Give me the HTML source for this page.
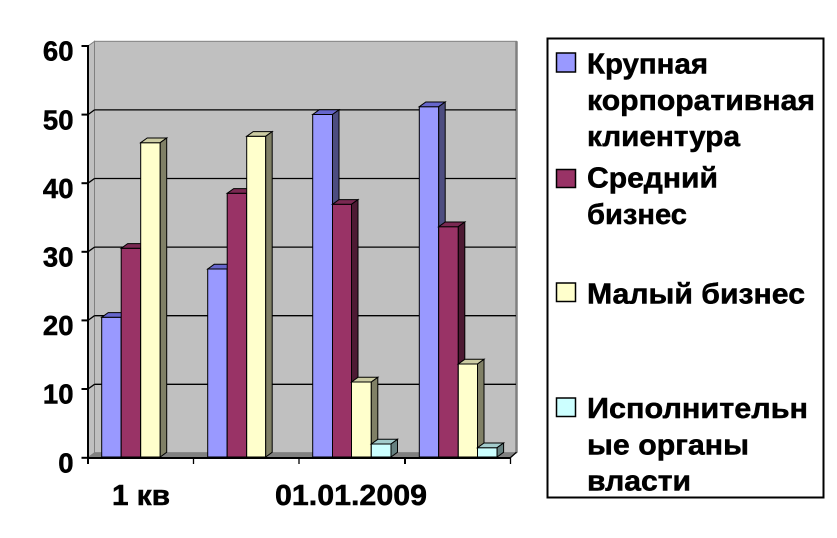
<!DOCTYPE html>
<html>
<head>
<meta charset="utf-8">
<style>
html,body{margin:0;padding:0;background:#fff;}
svg{display:block;}
text{font-family:"Liberation Sans","Noto Sans CJK SC",Arial,sans-serif;font-weight:bold;fill:#000;stroke:#000;stroke-width:0.5px;}
</style>
</head>
<body>
<svg width="837" height="538" viewBox="0 0 837 538" xmlns="http://www.w3.org/2000/svg">
<rect x="0" y="0" width="837" height="538" fill="#fff"/>
<!-- side wall -->
<polygon points="88,457.5 88,46 94.5,41.3 94.5,452.8" fill="#c0c0c0" stroke="#808080" stroke-width="1"/>
<!-- back wall -->
<rect x="94.5" y="41.3" width="422" height="411.5" fill="#c0c0c0" stroke="#808080" stroke-width="1"/>
<line x1="516.5" y1="41.3" x2="516.5" y2="452.8" stroke="#808080" stroke-width="2.5"/>
<!-- gridlines on back wall -->
<g stroke="#000" stroke-width="1.3">
<line x1="94.5" y1="109.9" x2="516" y2="109.9"/>
<line x1="94.5" y1="178.5" x2="516" y2="178.5"/>
<line x1="94.5" y1="247.1" x2="516" y2="247.1"/>
<line x1="94.5" y1="315.7" x2="516" y2="315.7"/>
<line x1="94.5" y1="384.3" x2="516" y2="384.3"/>
<line x1="88" y1="114.6" x2="94.5" y2="109.9"/>
<line x1="88" y1="183.2" x2="94.5" y2="178.5"/>
<line x1="88" y1="251.8" x2="94.5" y2="247.1"/>
<line x1="88" y1="320.4" x2="94.5" y2="315.7"/>
<line x1="88" y1="389" x2="94.5" y2="384.3"/>
</g>
<!-- floor -->
<polygon points="88,457.5 94.5,452.3 516.5,452.3 510,457.5" fill="#808080"/>

<!-- bars -->
<g stroke="#000" stroke-width="1" stroke-linejoin="miter">
<!-- group 1 -->
<rect x="101.7" y="317.3" width="19.5" height="139.7" fill="#9999ff"/>
<polygon points="101.7,317.3 108.2,312.6 127.7,312.6 121.2,317.3" fill="#6666cc"/>
<polygon points="121.2,317.3 127.7,312.6 127.7,452.3 121.2,457" fill="#4d4d80"/>
<rect x="121.2" y="248.3" width="19.5" height="208.7" fill="#993366"/>
<polygon points="121.2,248.3 127.7,243.6 147.2,243.6 140.7,248.3" fill="#7a2952"/>
<polygon points="140.7,248.3 147.2,243.6 147.2,452.3 140.7,457" fill="#4d1a33"/>
<rect x="140.7" y="142.7" width="19.5" height="314.3" fill="#ffffcc"/>
<polygon points="140.7,142.7 147.2,138 166.7,138 160.2,142.7" fill="#cccca3"/>
<polygon points="160.2,142.7 166.7,138 166.7,452.3 160.2,457" fill="#808066"/>

<!-- group 2 -->
<rect x="207.7" y="269" width="19.5" height="188" fill="#9999ff"/>
<polygon points="207.7,269 214.2,264.3 233.7,264.3 227.2,269" fill="#6666cc"/>
<polygon points="227.2,269 233.7,264.3 233.7,452.3 227.2,457" fill="#4d4d80"/>
<rect x="227.2" y="193.3" width="19.5" height="263.7" fill="#993366"/>
<polygon points="227.2,193.3 233.7,188.6 253.2,188.6 246.7,193.3" fill="#7a2952"/>
<polygon points="246.7,193.3 253.2,188.6 253.2,452.3 246.7,457" fill="#4d1a33"/>
<rect x="246.7" y="136.3" width="19" height="320.7" fill="#ffffcc"/>
<polygon points="246.7,136.3 253.2,131.6 272.2,131.6 265.7,136.3" fill="#cccca3"/>
<polygon points="265.7,136.3 272.2,131.6 272.2,452.3 265.7,457" fill="#808066"/>

<!-- group 3 -->
<rect x="312.7" y="114.5" width="19.8" height="342.5" fill="#9999ff"/>
<polygon points="312.7,114.5 319.2,109.8 339,109.8 332.5,114.5" fill="#6666cc"/>
<polygon points="332.5,114.5 339,109.8 339,452.3 332.5,457" fill="#4d4d80"/>
<rect x="332.5" y="204.3" width="19" height="252.7" fill="#993366"/>
<polygon points="332.5,204.3 339,199.6 358,199.6 351.5,204.3" fill="#7a2952"/>
<polygon points="351.5,204.3 358,199.6 358,452.3 351.5,457" fill="#4d1a33"/>
<rect x="351.5" y="382" width="19.8" height="75" fill="#ffffcc"/>
<polygon points="351.5,382 358,377.3 377.8,377.3 371.3,382" fill="#cccca3"/>
<polygon points="371.3,382 377.8,377.3 377.8,452.3 371.3,457" fill="#808066"/>
<rect x="371.3" y="444" width="19.7" height="13" fill="#ccffff"/>
<polygon points="371.3,444 377.8,439.3 397.5,439.3 391,444" fill="#a3cccc"/>
<polygon points="391,444 397.5,439.3 397.5,452.3 391,457" fill="#668080"/>

<!-- group 4 -->
<rect x="419.3" y="106.7" width="19.4" height="350.3" fill="#9999ff"/>
<polygon points="419.3,106.7 425.8,102 445.2,102 438.7,106.7" fill="#6666cc"/>
<polygon points="438.7,106.7 445.2,102 445.2,452.3 438.7,457" fill="#4d4d80"/>
<rect x="438.7" y="226.7" width="19.6" height="230.3" fill="#993366"/>
<polygon points="438.7,226.7 445.2,222 464.8,222 458.3,226.7" fill="#7a2952"/>
<polygon points="458.3,226.7 464.8,222 464.8,452.3 458.3,457" fill="#4d1a33"/>
<rect x="458.3" y="364" width="19.2" height="93" fill="#ffffcc"/>
<polygon points="458.3,364 464.8,359.3 484,359.3 477.5,364" fill="#cccca3"/>
<polygon points="477.5,364 484,359.3 484,452.3 477.5,457" fill="#808066"/>
<rect x="477.5" y="447.7" width="19.6" height="9.3" fill="#ccffff"/>
<polygon points="477.5,447.7 484,443 503.6,443 497.1,447.7" fill="#a3cccc"/>
<polygon points="497.1,447.7 503.6,443 503.6,452.3 497.1,457" fill="#668080"/>
</g>

<!-- axes -->
<g stroke="#000" stroke-width="2">
<line x1="88" y1="45" x2="88" y2="459"/>
<line x1="87" y1="458" x2="510.5" y2="458"/>
<line x1="510" y1="458" x2="516.5" y2="452.3" stroke-width="1.3"/>
<line x1="81.5" y1="46" x2="88" y2="46"/>
<line x1="81.5" y1="114.6" x2="88" y2="114.6"/>
<line x1="81.5" y1="183.2" x2="88" y2="183.2"/>
<line x1="81.5" y1="251.8" x2="88" y2="251.8"/>
<line x1="81.5" y1="320.4" x2="88" y2="320.4"/>
<line x1="81.5" y1="389" x2="88" y2="389"/>
<line x1="81.5" y1="457.8" x2="88" y2="457.8"/>
<line x1="88" y1="458" x2="88" y2="464"/>
<line x1="193.5" y1="458" x2="193.5" y2="464" stroke-width="1.3"/>
<line x1="299" y1="458" x2="299" y2="464" stroke-width="1.3"/>
<line x1="405" y1="458" x2="405" y2="464"/>
<line x1="510.5" y1="458" x2="510.5" y2="464" stroke-width="1.3"/>
</g>

<!-- y labels -->
<g font-size="27.5" text-anchor="end">
<text x="73.5" y="60.7">60</text>
<text x="73.5" y="129.3">50</text>
<text x="73.5" y="197.9">40</text>
<text x="73.5" y="266.5">30</text>
<text x="73.5" y="335.1">20</text>
<text x="73.5" y="403.7">10</text>
<text x="73.5" y="472.3">0</text>
</g>

<!-- x labels -->
<g font-size="28.5">
<text x="112" y="505" textLength="58" lengthAdjust="spacingAndGlyphs">1 кв</text>
<text x="275" y="505" textLength="152" lengthAdjust="spacingAndGlyphs">01.01.2009</text>
</g>

<!-- legend -->
<rect x="547.5" y="38.5" width="276" height="459" fill="#fff" stroke="#000" stroke-width="2"/>
<g stroke="#000" stroke-width="1.5">
<rect x="556.5" y="53" width="19" height="19" fill="#9999ff"/>
<rect x="556.5" y="169.5" width="19" height="18" fill="#993366"/>
<rect x="556.5" y="283" width="19" height="18.5" fill="#ffffcc"/>
<rect x="556.5" y="398" width="19" height="18.5" fill="#ccffff"/>
</g>
<g font-size="29">
<text x="587" y="73.3" textLength="121" lengthAdjust="spacingAndGlyphs">Крупная</text>
<text x="587" y="109.8" textLength="228" lengthAdjust="spacingAndGlyphs">корпоративная</text>
<text x="587" y="146" textLength="153" lengthAdjust="spacingAndGlyphs">клиентура</text>
<text x="587" y="187.3" textLength="131" lengthAdjust="spacingAndGlyphs">Средний</text>
<text x="587" y="223.8" textLength="100" lengthAdjust="spacingAndGlyphs">бизнес</text>
<text x="587" y="303.3" textLength="218" lengthAdjust="spacingAndGlyphs">Малый бизнес</text>
<text x="587" y="418" textLength="221" lengthAdjust="spacingAndGlyphs">Исполнительн</text>
<text x="587" y="454.5" textLength="162" lengthAdjust="spacingAndGlyphs">ые органы</text>
<text x="587" y="490.5" textLength="104" lengthAdjust="spacingAndGlyphs">власти</text>
</g>
</svg>
</body>
</html>
